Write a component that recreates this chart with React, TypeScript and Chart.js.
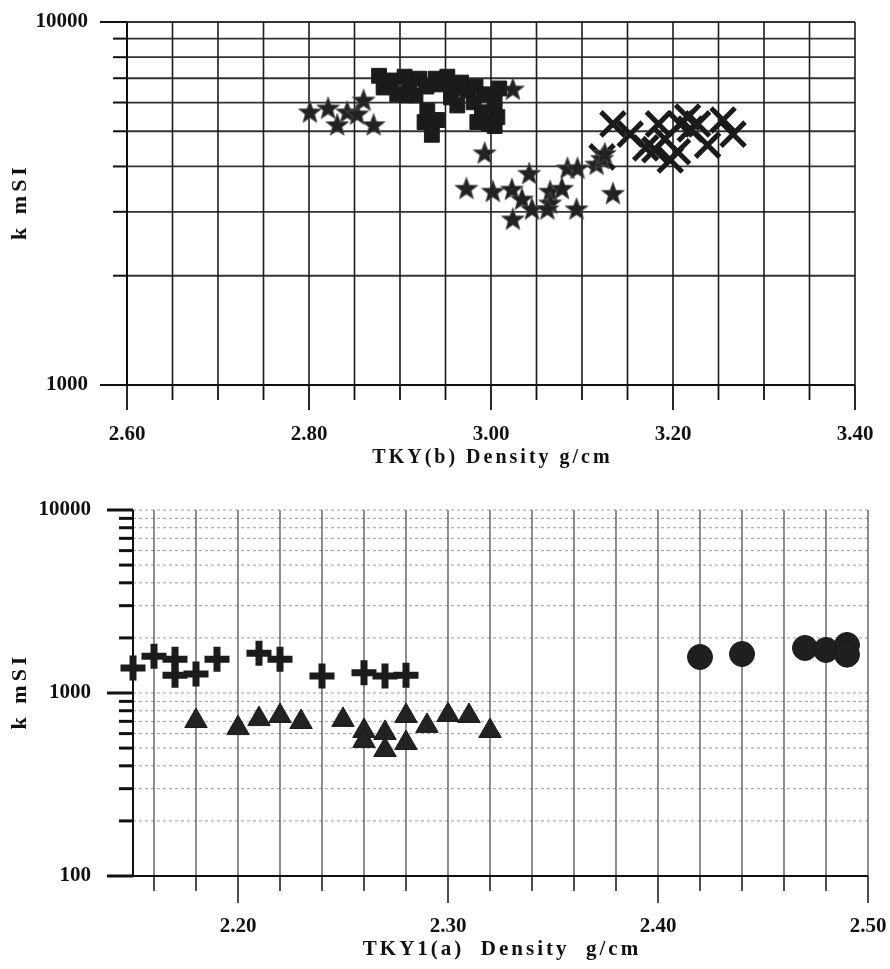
import React, { useEffect, useRef } from "react";
import { Chart, registerables } from "chart.js";

Chart.register(...registerables);

// ---- TKY(b): susceptibility k (mSI) against density ----
const tkybSquares: [number, number][] = [
  [2.877, 7110], [2.882, 6600], [2.890, 6900], [2.897, 6320], [2.905, 7070],
  [2.908, 6280], [2.910, 6560], [2.917, 6280], [2.921, 6980], [2.927, 5300],
  [2.929, 6640], [2.930, 5700], [2.935, 4890], [2.939, 6980], [2.941, 5370],
  [2.945, 6730], [2.952, 7070], [2.956, 6200], [2.960, 6600], [2.963, 5890],
  [2.967, 6810], [2.974, 6480], [2.981, 6010], [2.983, 6640], [2.985, 5300],
  [2.990, 5640], [2.994, 6320], [2.998, 5240], [3.004, 6010], [3.004, 5170],
  [3.007, 5470], [3.009, 6560],
];
const tkybStars: [number, number][] = [
  [2.801, 5640], [2.821, 5780], [2.831, 5200], [2.842, 5640], [2.853, 5570],
  [2.860, 6080], [2.871, 5200], [3.024, 6520],
  [2.993, 4350], [2.973, 3475], [3.002, 3410], [3.023, 3455], [3.024, 2860],
  [3.042, 3820], [3.034, 3245], [3.045, 3050], [3.065, 3410], [3.065, 3165],
  [3.062, 3050], [3.078, 3475], [3.084, 3950], [3.095, 3950], [3.094, 3050],
  [3.116, 4050], [3.122, 4200], [3.125, 4335], [3.134, 3365],
];
const tkybCrosses: [number, number][] = [
  [3.122, 4250], [3.134, 5240], [3.153, 4910], [3.170, 4500], [3.184, 5240],
  [3.180, 4450], [3.191, 4760], [3.197, 4170], [3.205, 4390], [3.208, 5240],
  [3.216, 5470], [3.219, 5070], [3.227, 5240], [3.238, 4580], [3.255, 5370],
  [3.266, 4910],
];

// ---- TKY1(a) ----
const tky1aPlus: [number, number][] = [
  [2.15, 1370], [2.16, 1590], [2.17, 1530], [2.17, 1250], [2.18, 1270],
  [2.19, 1530], [2.21, 1650], [2.22, 1530], [2.24, 1240], [2.26, 1290],
  [2.27, 1240], [2.28, 1250],
];
const tky1aTriangles: [number, number][] = [
  [2.18, 703], [2.20, 643], [2.21, 720], [2.22, 749], [2.23, 694],
  [2.25, 713], [2.26, 620], [2.26, 547], [2.27, 605], [2.27, 488],
  [2.28, 749], [2.28, 533], [2.29, 661], [2.30, 758], [2.31, 749],
  [2.32, 620],
];
const tky1aCircles: [number, number][] = [
  [2.42, 1573], [2.44, 1633], [2.47, 1762], [2.48, 1718], [2.49, 1830],
  [2.49, 1620],
];

// ---- axis ticks ----
const topXTicks = [
  2.60, 2.65, 2.70, 2.75, 2.80, 2.85, 2.90, 2.95, 3.00,
  3.05, 3.10, 3.15, 3.20, 3.25, 3.30, 3.35, 3.40,
];
const topXLabels = [2.60, 2.80, 3.00, 3.20, 3.40];
const topYTicks = [1000, 2000, 3000, 4000, 5000, 6000, 7000, 8000, 9000, 10000];
const bottomXTicks = [
  2.16, 2.18, 2.20, 2.22, 2.24, 2.26, 2.28, 2.30, 2.32, 2.34,
  2.36, 2.38, 2.40, 2.42, 2.44, 2.46, 2.48, 2.50,
];
const bottomXLabels = [2.20, 2.30, 2.40, 2.50];
const bottomYTicks = [
  100, 200, 300, 400, 500, 600, 700, 800, 900,
  1000, 2000, 3000, 4000, 5000, 6000, 7000, 8000, 9000, 10000,
];
const yLabels = [100, 1000, 10000];

const topXTitle = "TKY(b) Density g/cm";
const bottomXTitle = "TKY1(a)  Density  g/cm";
const yTitle = "k mSI";

const FONT = "'Liberation Serif', 'Times New Roman', 'DejaVu Serif', serif";
const INK = "#1b1b1b";

const isIn = (list: number[], v: number) => list.some((m) => Math.abs(m - v) < 1e-6);
const toPts = (arr: [number, number][]) => arr.map(([x, y]) => ({ x, y }));

type FrameStyle = {
  vColor: string; vWidth: number;
  hColor: string; hWidth: number; hDash: number[];
  axisWidth: number;
  xMajor: number[]; yMajor: number[];
  xMajorLen: number; xMinorLen: number; xTickWidth: number;
  yMajorLen: number; yMinorLen: number; yTickWidth: number;
};

// Grid, axis lines and outward tick marks drawn beneath the markers
function framePlugin(o: FrameStyle) {
  return {
    id: "frame",
    beforeDatasetsDraw(chart: any) {
      const { ctx, chartArea: a } = chart;
      const xs = chart.scales.x;
      const ys = chart.scales.y;
      const line = (x1: number, y1: number, x2: number, y2: number) => {
        ctx.beginPath();
        ctx.moveTo(x1, y1);
        ctx.lineTo(x2, y2);
        ctx.stroke();
      };
      ctx.save();
      ctx.strokeStyle = o.hColor;
      ctx.lineWidth = o.hWidth;
      ctx.setLineDash(o.hDash);
      for (const t of ys.ticks) {
        const y = ys.getPixelForValue(t.value);
        line(a.left, y, a.right, y);
      }
      ctx.setLineDash([]);
      ctx.strokeStyle = o.vColor;
      ctx.lineWidth = o.vWidth;
      for (const t of xs.ticks) {
        const x = xs.getPixelForValue(t.value);
        line(x, a.top, x, a.bottom);
      }
      ctx.strokeStyle = "#111";
      ctx.lineWidth = o.xTickWidth;
      for (const t of xs.ticks) {
        const x = xs.getPixelForValue(t.value);
        const len = isIn(o.xMajor, t.value) ? o.xMajorLen : o.xMinorLen;
        line(x, a.bottom, x, a.bottom + len);
      }
      ctx.lineWidth = o.yTickWidth;
      for (const t of ys.ticks) {
        const y = ys.getPixelForValue(t.value);
        const len = isIn(o.yMajor, t.value) ? o.yMajorLen : o.yMinorLen;
        line(a.left - len, y, a.left, y);
      }
      ctx.lineWidth = o.axisWidth;
      line(a.left, a.top, a.left, a.bottom);
      line(a.left, a.bottom, a.right, a.bottom);
      ctx.restore();
    },
  };
}

type TitleStyle = {
  xText: string; xBaseline: number; xSize: number; xSpacing: number;
  yText: string; yCenterX: number; ySize: number; ySpacing: number;
};

// Spaced-out axis titles
function titlePlugin(o: TitleStyle) {
  return {
    id: "axisTitles",
    afterDraw(chart: any) {
      const { ctx, chartArea: a } = chart;
      ctx.save();
      ctx.fillStyle = "#111";
      ctx.textAlign = "center";
      ctx.font = `bold ${o.xSize}px ${FONT}`;
      (ctx as any).letterSpacing = `${o.xSpacing}px`;
      ctx.textBaseline = "alphabetic";
      ctx.fillText(o.xText, (a.left + a.right) / 2 + o.xSpacing / 2, o.xBaseline);
      ctx.font = `bold ${o.ySize}px ${FONT}`;
      (ctx as any).letterSpacing = `${o.ySpacing}px`;
      ctx.translate(o.yCenterX, (a.top + a.bottom) / 2);
      ctx.rotate(-Math.PI / 2);
      ctx.textBaseline = "middle";
      ctx.fillText(o.yText, o.ySpacing / 2, 0);
      ctx.restore();
    },
  };
}

function makeStar(): HTMLCanvasElement {
  const c = document.createElement("canvas");
  c.width = 26;
  c.height = 26;
  const g = c.getContext("2d")!;
  const R = 12;
  const r = 5;
  g.beginPath();
  for (let i = 0; i < 10; i++) {
    const ang = -Math.PI / 2 + (i * Math.PI) / 5;
    const rad = i % 2 === 0 ? R : r;
    const px = 13 + Math.cos(ang) * rad;
    const py = 13.5 + Math.sin(ang) * rad;
    if (i === 0) g.moveTo(px, py);
    else g.lineTo(px, py);
  }
  g.closePath();
  g.fillStyle = "#222";
  g.fill();
  g.strokeStyle = "#555";
  g.lineWidth = 0.8;
  g.stroke();
  return c;
}

const tickFont = { family: FONT, size: 21, weight: "bold" as const };

function axisLabel(v: any, list: number[]) {
  return isIn(list, Number(v)) ? Number(v).toFixed(2) : "";
}

// x scale: fixed height, no extra side padding from edge labels
function xScale(min: number, max: number, ticks: number[], labels: number[], height: number, pad: number) {
  return {
    type: "linear", min, max,
    afterBuildTicks: (s: any) => { s.ticks = ticks.map((value) => ({ value })); },
    afterFit: (s: any) => { s.height = height; s.paddingLeft = 0; s.paddingRight = 0; },
    grid: { display: false, drawTicks: false },
    border: { display: false },
    ticks: {
      autoSkip: false, maxRotation: 0, minRotation: 0, padding: pad,
      color: "#111", font: tickFont,
      callback: (v: any) => axisLabel(v, labels),
    },
    title: { display: false },
  };
}

function yScale(min: number, max: number, ticks: number[], width: number, pad: number) {
  return {
    type: "logarithmic", min, max,
    afterBuildTicks: (s: any) => { s.ticks = ticks.map((value) => ({ value })); },
    afterFit: (s: any) => { s.width = width; s.paddingTop = 0; s.paddingBottom = 0; },
    grid: { display: false, drawTicks: false },
    border: { display: false },
    ticks: {
      autoSkip: false, padding: pad, color: "#111", font: tickFont,
      callback: (v: any) => (isIn(yLabels, Number(v)) ? String(v) : ""),
    },
    title: { display: false },
  };
}

export default function App() {
  const topRef = useRef<HTMLCanvasElement>(null);
  const botRef = useRef<HTMLCanvasElement>(null);

  useEffect(() => {
    const star = makeStar();

    const top = new Chart(topRef.current!, {
      type: "scatter",
      data: {
        datasets: [
          {
            data: toPts(tkybSquares), pointStyle: "rect", pointRadius: 10.5,
            backgroundColor: INK, borderColor: INK, borderWidth: 1, clip: false,
          },
          {
            data: toPts(tkybStars), pointStyle: star, pointRadius: 12,
            backgroundColor: INK, borderColor: INK, clip: false,
          },
          {
            data: toPts(tkybCrosses), pointStyle: "crossRot", pointRadius: 17,
            backgroundColor: INK, borderColor: INK, borderWidth: 5, clip: false,
          },
        ],
      },
      options: {
        animation: false,
        responsive: false,
        maintainAspectRatio: false,
        layout: { padding: { top: 19, right: 35, left: 0, bottom: 0 } },
        plugins: { legend: { display: false }, tooltip: { enabled: false } },
        scales: {
          x: xScale(2.6, 3.4, topXTicks, topXLabels, 95, 37),
          y: yScale(1000, 10000, topYTicks, 127, 39),
        },
      },
      plugins: [
        framePlugin({
          vColor: "#1c1c1c", vWidth: 1.6,
          hColor: "#333", hWidth: 1.8, hDash: [],
          axisWidth: 2,
          xMajor: topXLabels, yMajor: yLabels,
          xMajorLen: 25, xMinorLen: 15, xTickWidth: 1.8,
          yMajorLen: 27, yMinorLen: 14, yTickWidth: 2,
        }),
        titlePlugin({
          xText: topXTitle, xBaseline: 463, xSize: 20, xSpacing: 3,
          yText: yTitle, yCenterX: 20, ySize: 22, ySpacing: 4,
        }),
      ],
    } as any);

    const bottom = new Chart(botRef.current!, {
      type: "scatter",
      data: {
        datasets: [
          {
            data: toPts(tky1aPlus), pointStyle: "cross", pointRadius: 12.5,
            backgroundColor: INK, borderColor: INK, borderWidth: 7, clip: false,
          },
          {
            data: toPts(tky1aTriangles), pointStyle: "triangle", pointRadius: 13,
            backgroundColor: "#222", borderColor: INK, borderWidth: 1, clip: false,
          },
          {
            data: toPts(tky1aCircles), pointStyle: "circle", pointRadius: 12.5,
            backgroundColor: "#1f1f1f", borderColor: INK, borderWidth: 1, clip: false,
          },
        ],
      },
      options: {
        animation: false,
        responsive: false,
        maintainAspectRatio: false,
        layout: { padding: { top: 30, right: 22, left: 0, bottom: 0 } },
        plugins: { legend: { display: false }, tooltip: { enabled: false } },
        scales: {
          x: xScale(2.15, 2.5, bottomXTicks, bottomXLabels, 93, 38),
          y: yScale(100, 10000, bottomYTicks, 133, 42),
        },
      },
      plugins: [
        framePlugin({
          vColor: "#444", vWidth: 1.2,
          hColor: "#9a9a9a", hWidth: 1, hDash: [3, 3],
          axisWidth: 2,
          xMajor: bottomXLabels, yMajor: yLabels,
          xMajorLen: 27, xMinorLen: 15, xTickWidth: 1.5,
          yMajorLen: 26, yMinorLen: 14, yTickWidth: 3,
        }),
        titlePlugin({
          xText: bottomXTitle, xBaseline: 475, xSize: 21, xSpacing: 3,
          yText: yTitle, yCenterX: 20, ySize: 22, ySpacing: 4,
        }),
      ],
    } as any);

    return () => {
      top.destroy();
      bottom.destroy();
    };
  }, []);

  return (
    <div style={{ position: "absolute", left: 0, top: 0, width: 890, height: 969, background: "#fff" }}>
      <canvas ref={topRef} width={890} height={480} style={{ position: "absolute", left: 0, top: 0, display: "block" }} />
      <canvas ref={botRef} width={890} height={489} style={{ position: "absolute", left: 0, top: 480, display: "block" }} />
    </div>
  );
}
